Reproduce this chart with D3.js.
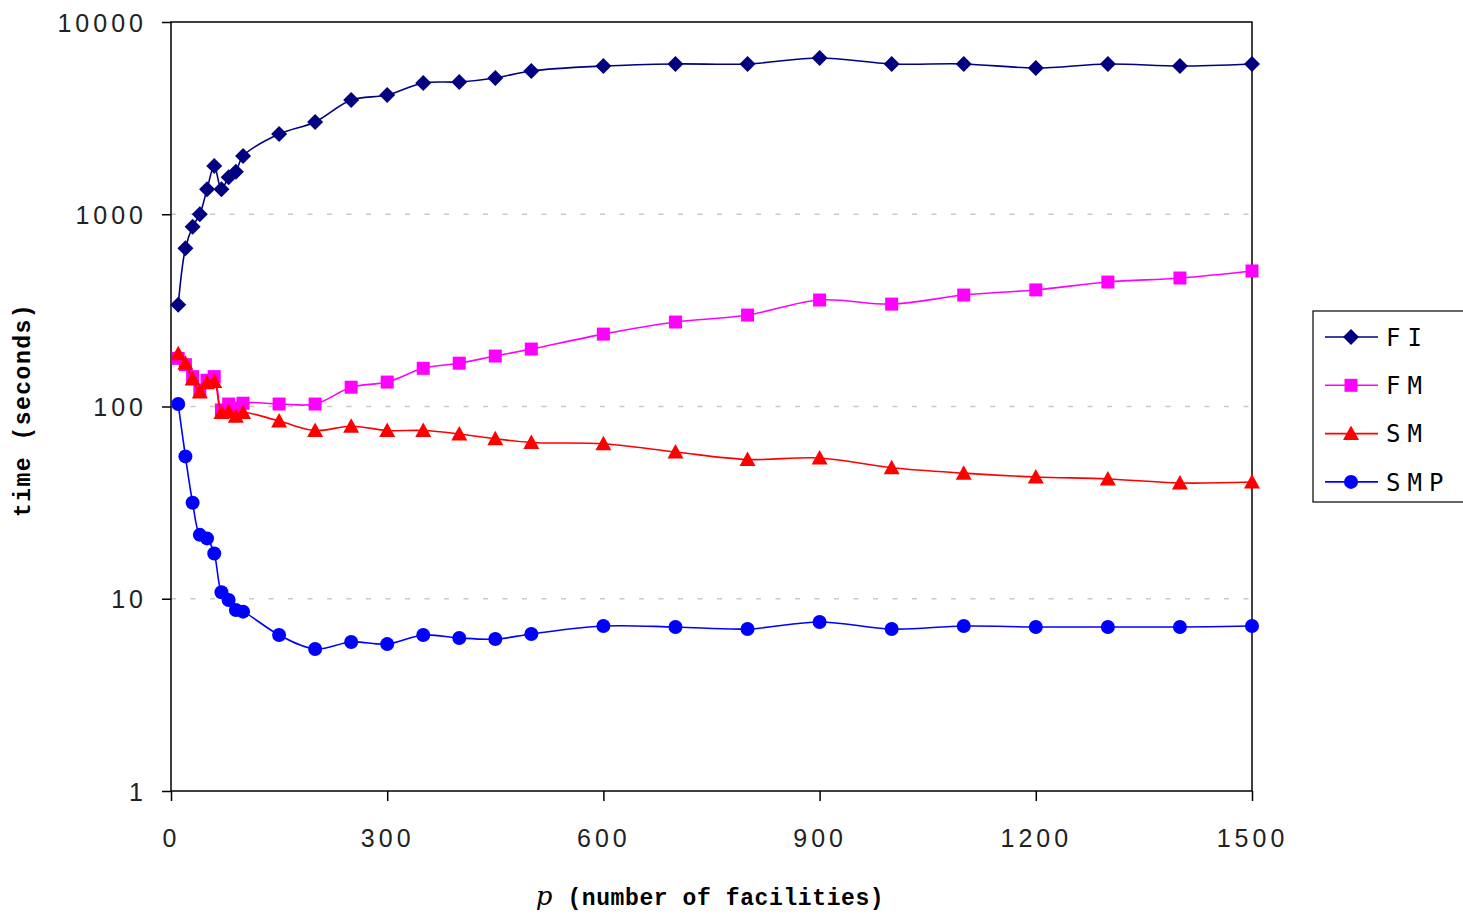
<!DOCTYPE html>
<html>
<head>
<meta charset="utf-8">
<script src="https://cdn.jsdelivr.net/npm/d3@7"></script>
<style>
    body { margin: 0; background: #fff; }
    svg { display: block; }
</style>
</head>
<body>
<div id="chart"></div>
<script>
// p values (number of facilities)
const pValues = [10, 20, 30, 40, 50, 60, 70, 80, 90, 100, 150, 200, 250, 300, 350, 400, 450, 500,
    600, 700, 800, 900, 1000, 1100, 1200, 1300, 1400, 1500];

// time in seconds per method
const fiTimes = [338, 665, 861, 1000, 1349, 1783, 1349, 1556, 1664, 2010, 2613, 3020, 3925, 4170, 4817, 4878, 5117, 5563,
    5900, 6050, 6050, 6500, 6050, 6050, 5766, 6050, 5900, 6050];
const fmTimes = [178, 165, 143, 122, 137, 143, 96, 103, 98, 104, 103, 103, 126, 134, 158, 168, 183, 199,
    238, 275, 299, 358, 341, 380, 404, 444, 466, 507];
const smTimes = [188, 168, 139, 119, 133, 135, 93, 94, 89, 93, 84, 75, 79, 75, 75, 72, 68, 65,
    64, 58, 53, 54, 48, 45, 43, 42, 40, 40.5];
const smpTimes = [103, 55, 31.6, 21.5, 20.6, 17.2, 10.8, 9.85, 8.74, 8.57, 6.48, 5.48, 5.96, 5.81, 6.48, 6.25, 6.17, 6.56,
    7.21, 7.13, 6.96, 7.57, 6.96, 7.21, 7.13, 7.13, 7.13, 7.21];

const xTicks = [0, 300, 600, 900, 1200, 1500];
const yTicks = [1, 10, 100, 1000, 10000];
const gridTicks = [10, 100, 1000];

const seriesNames = ["FI", "FM", "SM", "SMP"];
const seriesValues = [fiTimes, fmTimes, smTimes, smpTimes];

const styles = {
    FI: { color: "#000080", marker: "diamond" },
    FM: { color: "#ff00ff", marker: "square" },
    SM: { color: "#ff0000", marker: "triangle" },
    SMP: { color: "#0000ff", marker: "circle" },
};

const width = 1463, height = 917;
const plot = { left: 171, right: 1252, top: 22, bottom: 791 };

const svg = d3.select("#chart").append("svg")
    .attr("width", width).attr("height", height);

const x = d3.scaleLinear().domain([0, 1500]).range([plot.left, plot.right]);
const y = d3.scaleLog().domain([1, 10000]).range([plot.bottom, plot.top]);

// marker path drawn around (0,0)
function markerPath(type) {
    switch (type) {
        case "diamond": return "M0,-8L8,0L0,8L-8,0Z";
        case "square": return "M-6.5,-6.5H6.5V6.5H-6.5Z";
        case "triangle": return "M0,-8L8,6.5L-8,6.5Z";
        default: return d3.arc()({ innerRadius: 0, outerRadius: 7, startAngle: 0, endAngle: 2 * Math.PI });
    }
}

// dashed grid lines
svg.append("g").selectAll("line").data(gridTicks).join("line")
    .attr("x1", plot.left).attr("x2", plot.right)
    .attr("y1", d => y(d)).attr("y2", d => y(d))
    .attr("stroke", "#c8c8c8").attr("stroke-width", 1.5)
    .attr("stroke-dasharray", "5,14.5");

// plot frame
svg.append("rect")
    .attr("x", plot.left).attr("y", plot.top)
    .attr("width", plot.right - plot.left).attr("height", plot.bottom - plot.top)
    .attr("fill", "none").attr("stroke", "#000").attr("stroke-width", 1.5);

// y axis
const yAxis = d3.axisLeft(y).tickValues(yTicks).tickFormat(d3.format("d")).tickSize(9).tickPadding(19);
const gy = svg.append("g").attr("transform", `translate(${plot.left},0)`).call(yAxis);

// x axis
const xAxis = d3.axisBottom(x).tickValues(xTicks).tickFormat(d3.format("d")).tickSize(10).tickPadding(28);
const gx = svg.append("g").attr("transform", `translate(0,${plot.bottom})`).call(xAxis);

[gx, gy].forEach(g => {
    g.select(".domain").remove();
    g.selectAll(".tick line").attr("stroke", "#000").attr("stroke-width", 1.5);
    g.selectAll(".tick text")
        .attr("fill", "#222")
        .style("font-family", "'Liberation Sans', Arial, sans-serif")
        .style("font-size", "25px")
        .style("letter-spacing", "4px");
});
gy.selectAll(".tick text").attr("dy", "0.36em").attr("dx", "4px");

// series
const line = d3.line()
    .x((d, i) => x(pValues[i]))
    .y(d => y(d))
    .curve(d3.curveCatmullRom.alpha(0.5));

seriesNames.forEach((name, k) => {
    const st = styles[name];
    const g = svg.append("g");
    g.append("path")
        .attr("d", line(seriesValues[k]))
        .attr("fill", "none").attr("stroke", st.color).attr("stroke-width", 1.6);
    g.selectAll("path.m").data(seriesValues[k]).join("path")
        .attr("class", "m")
        .attr("d", markerPath(st.marker))
        .attr("transform", (d, i) => `translate(${x(pValues[i])},${y(d)})`)
        .attr("fill", st.color);
});

// axis titles
svg.append("text")
    .attr("transform", "translate(30,410) rotate(-90)")
    .attr("text-anchor", "middle")
    .style("font-family", "'Liberation Mono', 'Courier New', monospace")
    .style("font-weight", "bold").style("font-size", "23px")
    .style("letter-spacing", "1.5px")
    .text("time (seconds)");

const xt = svg.append("text")
    .attr("x", 710).attr("y", 905)
    .attr("text-anchor", "middle")
    .style("font-family", "'Liberation Mono', 'Courier New', monospace")
    .style("font-weight", "bold").style("font-size", "23px")
    .style("letter-spacing", "0.6px");
xt.append("tspan").style("font-style", "italic").style("font-weight", "normal")
    .style("font-family", "'DejaVu Serif', serif").style("font-size", "26px").text("p");
xt.append("tspan").text(" (number of facilities)");

// legend
const legend = svg.append("g").attr("transform", "translate(1313,311)");
legend.append("rect")
    .attr("width", 170).attr("height", 191)
    .attr("fill", "#fff").attr("stroke", "#000").attr("stroke-width", 1.2);
const items = legend.selectAll("g.item").data(seriesNames).join("g")
    .attr("class", "item")
    .attr("transform", (d, i) => `translate(0,${26 + i * 48.3})`);
items.append("line")
    .attr("x1", 12).attr("x2", 65)
    .attr("stroke", d => styles[d].color).attr("stroke-width", 1.6);
items.append("path")
    .attr("d", d => markerPath(styles[d].marker))
    .attr("transform", "translate(38,0)")
    .attr("fill", d => styles[d].color);
items.append("text")
    .attr("x", 73).attr("dy", "0.36em")
    .style("font-family", "'DejaVu Sans Mono', 'Liberation Mono', monospace")
    .style("font-size", "24px")
    .style("letter-spacing", "7px")
    .text(d => d);
</script>
</body>
</html>
